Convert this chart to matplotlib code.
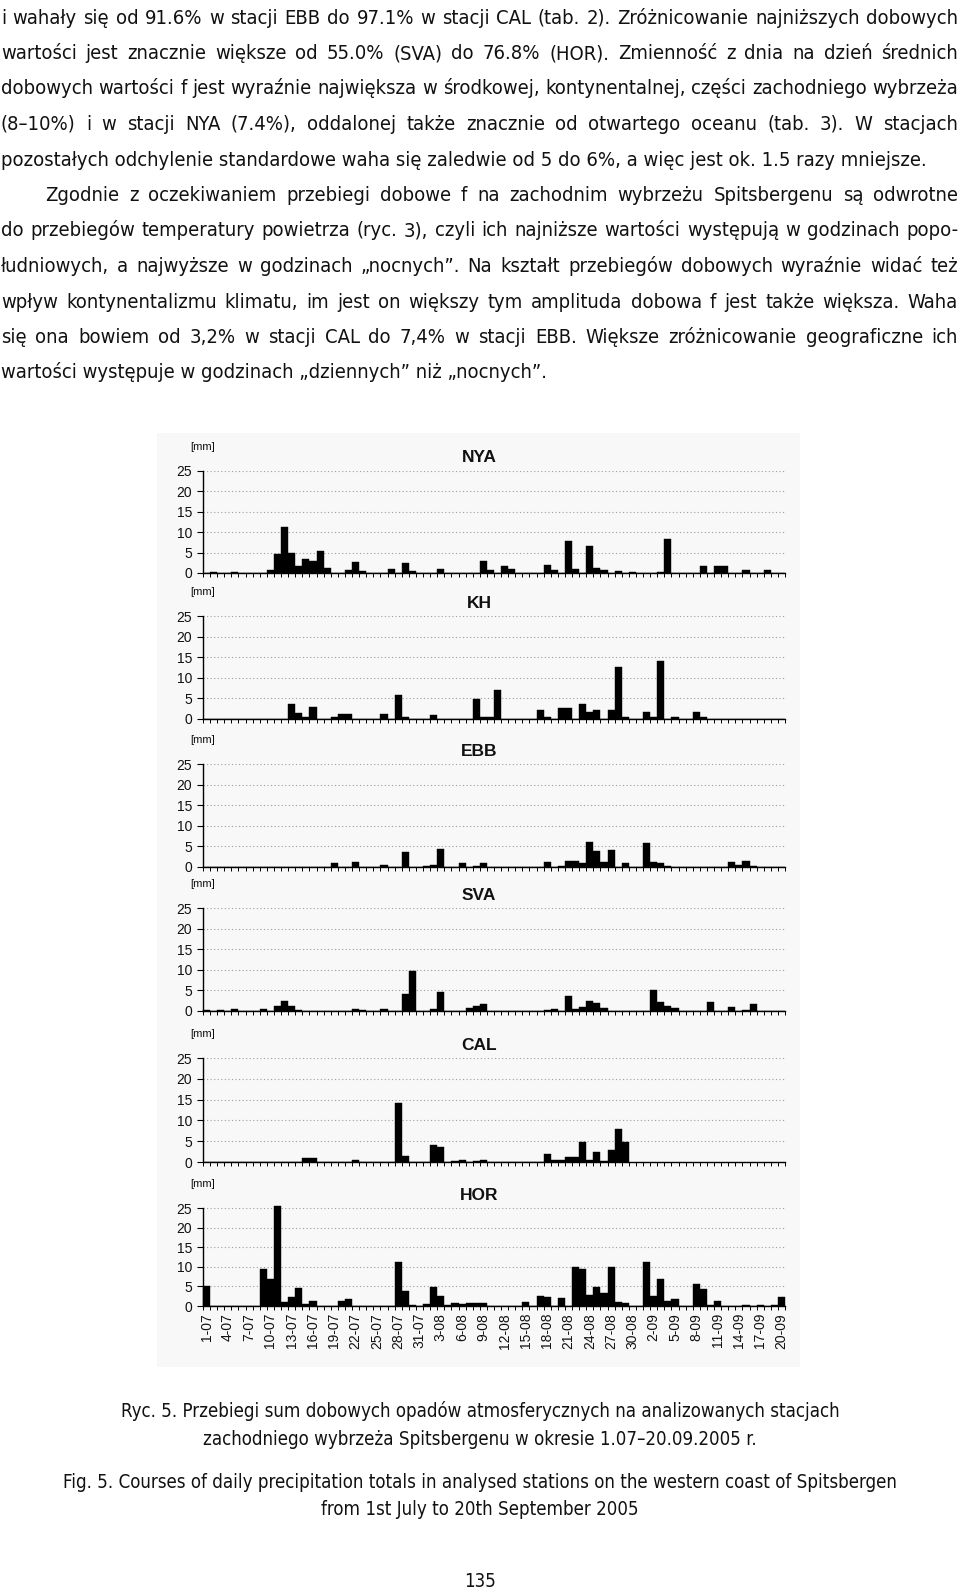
import numpy as np
import matplotlib
matplotlib.use("Agg")
import matplotlib.pyplot as plt
from matplotlib import font_manager

# ---------------- data ----------------
n_days = 82
tick_labels = ['1-07', '4-07', '7-07', '10-07', '13-07', '16-07', '19-07', '22-07',
               '25-07', '28-07', '31-07', '3-08', '6-08', '9-08', '12-08', '15-08',
               '18-08', '21-08', '24-08', '27-08', '30-08', '2-09', '5-09', '8-09',
               '11-09', '14-09', '17-09', '20-09']

NYA = [0, 0.3, 0, 0, 0.3, 0, 0, 0, 0, 0.7,
       4.7, 11.2, 4.9, 1.6, 3.4, 3.0, 5.4, 1.3, 0, 0,
       0.7, 2.6, 0.4, 0, 0, 0, 1.1, 0, 2.5, 0.4,
       0, 0, 0, 1.1, 0, 0, 0, 0, 0, 3.0,
       0.7, 0, 1.6, 1.1, 0, 0, 0, 0, 2.0, 0.7,
       0, 7.8, 1.1, 0, 6.5, 1.3, 0.7, 0, 0.6, 0,
       0.3, 0, 0, 0, 0.3, 8.3, 0, 0, 0, 0,
       1.6, 0, 1.6, 1.6, 0, 0, 0.7, 0, 0, 0.8,
       0, 0]

KH = [0, 0, 0, 0, 0, 0, 0, 0, 0, 0,
      0, 0, 3.6, 1.4, 0.6, 3.0, 0, 0, 0.4, 1.3,
      1.3, 0, 0, 0, 0, 1.3, 0, 5.9, 0.4, 0,
      0, 0, 0.9, 0, 0, 0, 0, 0, 4.8, 0.6,
      0.6, 7.0, 0.1, 0.1, 0.1, 0, 0, 2.3, 0.6, 0,
      2.7, 2.7, 0, 3.6, 1.8, 2.2, 0, 2.2, 12.7, 0.6,
      0, 0, 1.8, 0.6, 14.1, 0, 0.6, 0, 0, 1.8,
      0.6, 0, 0, 0, 0, 0, 0, 0, 0, 0,
      0, 0]

EBB = [0, 0, 0, 0, 0, 0, 0, 0, 0, 0,
       0, 0, 0, 0, 0, 0, 0, 0, 1.0, 0,
       0, 1.1, 0, 0, 0, 0.6, 0, 0, 3.6, 0,
       0, 0.2, 0.6, 4.3, 0, 0, 1.0, 0, 0.2, 1.0,
       0, 0, 0, 0, 0, 0, 0, 0, 1.1, 0,
       0.2, 1.5, 1.5, 1.0, 6.1, 3.8, 1.1, 4.1, 0, 1.0,
       0, 0, 5.9, 1.1, 1.0, 0.2, 0, 0, 0, 0,
       0, 0, 0, 0, 1.1, 0.6, 1.5, 0.2, 0, 0,
       0, 0]

SVA = [0.2, 0.1, 0.2, 0, 0.5, 0.1, 0.1, 0, 0.5, 0,
       1.1, 2.5, 1.3, 0.2, 0, 0, 0, 0, 0, 0,
       0, 0.4, 0.2, 0, 0, 0.5, 0, 0, 4.2, 9.7,
       0, 0, 0.5, 4.7, 0, 0, 0, 0.7, 1.3, 1.7,
       0, 0, 0, 0.1, 0.1, 0, 0.1, 0.1, 0.2, 0.5,
       0, 3.7, 0.5, 1.0, 2.5, 2.0, 0.8, 0, 0, 0,
       0, 0, 0, 5.2, 2.1, 1.2, 0.8, 0, 0, 0,
       0, 2.1, 0, 0, 1.0, 0, 0.2, 1.7, 0, 0,
       0, 0]

CAL = [0, 0, 0, 0, 0, 0, 0, 0, 0, 0,
       0, 0, 0, 0, 0.9, 0.9, 0, 0, 0, 0,
       0, 0.5, 0, 0, 0, 0, 0, 14.2, 1.5, 0,
       0, 0, 4.2, 3.5, 0, 0.2, 0.5, 0, 0.2, 0.5,
       0, 0, 0, 0, 0, 0, 0, 0, 2.0, 0.5,
       0.5, 1.1, 1.1, 4.9, 0.6, 2.4, 0.2, 2.8, 7.9, 4.7,
       np.nan, np.nan, np.nan, np.nan, np.nan, np.nan, np.nan, np.nan, np.nan, np.nan,
       np.nan, np.nan, np.nan, np.nan, np.nan, np.nan, np.nan, np.nan, np.nan, np.nan,
       np.nan, np.nan]

HOR = [5.0, 0, 0, 0, 0, 0, 0, 0, 9.4, 7.0,
       25.5, 0.9, 2.3, 4.5, 0.4, 1.4, 0, 0, 0, 1.4,
       1.9, 0, 0, 0, 0, 0, 0, 11.2, 3.9, 0.3,
       0, 0.4, 4.8, 2.6, 0.3, 0.8, 0.5, 0.8, 0.8, 0.8,
       0, 0, 0, 0, 0, 0.9, 0, 2.6, 2.4, 0,
       2.0, 0, 9.9, 9.4, 2.7, 4.8, 3.3, 10.0, 0.9, 0.7,
       0, 0, 11.2, 2.6, 6.9, 1.2, 1.9, 0.1, 0, 5.5,
       4.4, 0.2, 1.4, 0.1, 0.1, 0.1, 0.2, 0.1, 0.3, 0.1,
       0.3, 2.3]

station_names = ['NYA', 'KH', 'EBB', 'SVA', 'CAL', 'HOR']
station_values = [NYA, KH, EBB, SVA, CAL, HOR]
y_ticks = [0, 5, 10, 15, 20, 25]

body_lines = [
    "i wahały się od 91.6% w stacji EBB do 97.1% w stacji CAL (tab. 2). Zróżnicowanie najniższych dobowych",
    "wartości jest znacznie większe od 55.0% (SVA) do 76.8% (HOR). Zmienność z dnia na dzień średnich",
    "dobowych wartości f jest wyraźnie największa w środkowej, kontynentalnej, części zachodniego wybrzeża",
    "(8–10%) i w stacji NYA (7.4%), oddalonej także znacznie od otwartego oceanu (tab. 3). W stacjach",
    "pozostałych odchylenie standardowe waha się zaledwie od 5 do 6%, a więc jest ok. 1.5 razy mniejsze.",
    "Zgodnie z oczekiwaniem przebiegi dobowe f na zachodnim wybrzeżu Spitsbergenu są odwrotne",
    "do przebiegów temperatury powietrza (ryc. 3), czyli ich najniższe wartości występują w godzinach popo-",
    "łudniowych, a najwyższe w godzinach „nocnych”. Na kształt przebiegów dobowych wyraźnie widać też",
    "wpływ kontynentalizmu klimatu, im jest on większy tym amplituda dobowa f jest także większa. Waha",
    "się ona bowiem od 3,2% w stacji CAL do 7,4% w stacji EBB. Większe zróżnicowanie geograficzne ich",
    "wartości występuje w godzinach „dziennych” niż „nocnych”.",
]
caption_lines = [
    "Ryc. 5. Przebiegi sum dobowych opadów atmosferycznych na analizowanych stacjach",
    "zachodniego wybrzeża Spitsbergenu w okresie 1.07–20.09.2005 r.",
    "Fig. 5. Courses of daily precipitation totals in analysed stations on the western coast of Spitsbergen",
    "from 1st July to 20th September 2005",
]
page_number = "135"

# ---------------- figure ----------------
W, H = 960, 1590
fig = plt.figure(figsize=(W / 100, H / 100), dpi=100)
fig.patch.set_facecolor('white')


def fx(x):
    return x / W


def fy(y):
    return 1 - y / H


# pick a narrow sans face (Arial Narrow look-alike) if one exists
pref = []
for f in font_manager.fontManager.ttflist:
    fn = f.fname.split('/')[-1].lower()
    if 'narrow' in fn and 'liberation' in fn and 'bold' not in fn and 'italic' not in fn:
        pref.append((0, f.fname))
    elif 'condensed' in fn and 'sans' in fn and 'bold' not in fn and 'oblique' not in fn \
            and 'italic' not in fn and 'mono' not in fn and 'serif' not in fn:
        pref.append((1, f.fname))
pref.sort()
if pref:
    body_fp = font_manager.FontProperties(fname=pref[0][1])
else:
    body_fp = font_manager.FontProperties(family='Liberation Sans')

sans = 'Liberation Sans'
renderer = fig.canvas.get_renderer()
TXT = '#111111'


def width_of(s, size):
    t = fig.text(0, 0.5, s, fontproperties=body_fp, fontsize=size)
    w = t.get_window_extent(renderer).width
    t.remove()
    return w


body_size = 16 * 930 / width_of(body_lines[4], 16)
cap_size = 16 * 838 / width_of(caption_lines[2], 16)


def put_justified(s, x0, x1, yb, size):
    words = s.split(' ')
    ts = [fig.text(0, fy(yb), w, fontproperties=body_fp, fontsize=size,
                   va='baseline', ha='left', color=TXT) for w in words]
    ws = [t.get_window_extent(renderer).width for t in ts]
    gap = (x1 - x0 - sum(ws)) / (len(words) - 1)
    x = x0
    for t, w in zip(ts, ws):
        t.set_x(fx(x))
        x += w + gap


line_base0 = 23.5
line_step = 35.5
for i, s in enumerate(body_lines):
    yb = line_base0 + i * line_step
    if i in (4, 10):
        fig.text(fx(1), fy(yb), s, fontproperties=body_fp, fontsize=body_size,
                 va='baseline', ha='left', color=TXT)
    elif i == 5:
        put_justified(s, 45, 958, yb, body_size)
    else:
        put_justified(s, 1, 958, yb, body_size)

# background of the scanned figure
bg = fig.add_axes([fx(157), fy(1367), fx(800) - fx(157), (1367 - 433) / H], zorder=-5)
bg.set_facecolor('#f8f8f8')
bg.set_xticks([])
bg.set_yticks([])
for sp in bg.spines.values():
    sp.set_visible(False)

# panel geometry (pixel rows of the 0-line and 25-line)
panel_rows = [(573, 471), (719, 616), (867, 764), (1011, 908), (1162, 1058), (1306, 1208)]
x_left, x_right = 203, 785
days = np.arange(n_days)

for k, (name, vals) in enumerate(zip(station_names, station_values)):
    y0, y25 = panel_rows[k]
    ax = fig.add_axes([fx(x_left), fy(y0), fx(x_right) - fx(x_left), (y0 - y25) / H], zorder=2)
    ax.set_facecolor('none')
    ax.bar(days, vals, width=1.0, color='black', edgecolor='black',
           linewidth=0.3, clip_on=False, zorder=3)
    ax.set_xlim(-0.5, n_days - 0.5)
    ax.set_ylim(0, 25)
    for sp in ('top', 'right'):
        ax.spines[sp].set_visible(False)
    ax.spines['left'].set_linewidth(1.0)
    ax.spines['bottom'].set_linewidth(1.0)
    ax.set_yticks(y_ticks)
    ax.set_yticklabels([str(v) for v in y_ticks], fontsize=10, family=sans, color=TXT)
    ax.tick_params(axis='y', length=4, width=0.8, direction='out', pad=4)
    ax.yaxis.grid(True, color='#555555', linestyle=(0, (1, 2.2)), linewidth=0.8, alpha=0.55)
    ax.set_axisbelow(True)
    ax.set_xticks(np.arange(-0.5, n_days, 1), minor=True)
    ax.tick_params(axis='x', which='minor', length=3, width=0.7, direction='out')
    if name == 'HOR':
        ax.set_xticks(days[::3])
        ax.set_xticklabels(tick_labels, rotation=90, fontsize=10, family=sans, color=TXT)
        ax.tick_params(axis='x', which='major', length=0, pad=5)
    else:
        ax.set_xticks([])
    fig.text(fx(479), fy(y25 - 13), name, fontsize=12.5, fontweight='bold',
             family=sans, ha='center', va='center', color=TXT)
    fig.text(fx(203), fy(y25 - 24), '[mm]', fontsize=8, family=sans,
             ha='center', va='center', color=TXT)

# captions
cap_base = [1417, 1445, 1488, 1515]
for s, yb in zip(caption_lines, cap_base):
    fig.text(fx(480), fy(yb), s, fontproperties=body_fp, fontsize=cap_size,
             ha='center', va='baseline', color=TXT)
fig.text(fx(480), fy(1587), page_number, fontproperties=body_fp, fontsize=cap_size,
         ha='center', va='baseline', color=TXT)

fig.savefig('out.png', dpi=100, facecolor='white')
